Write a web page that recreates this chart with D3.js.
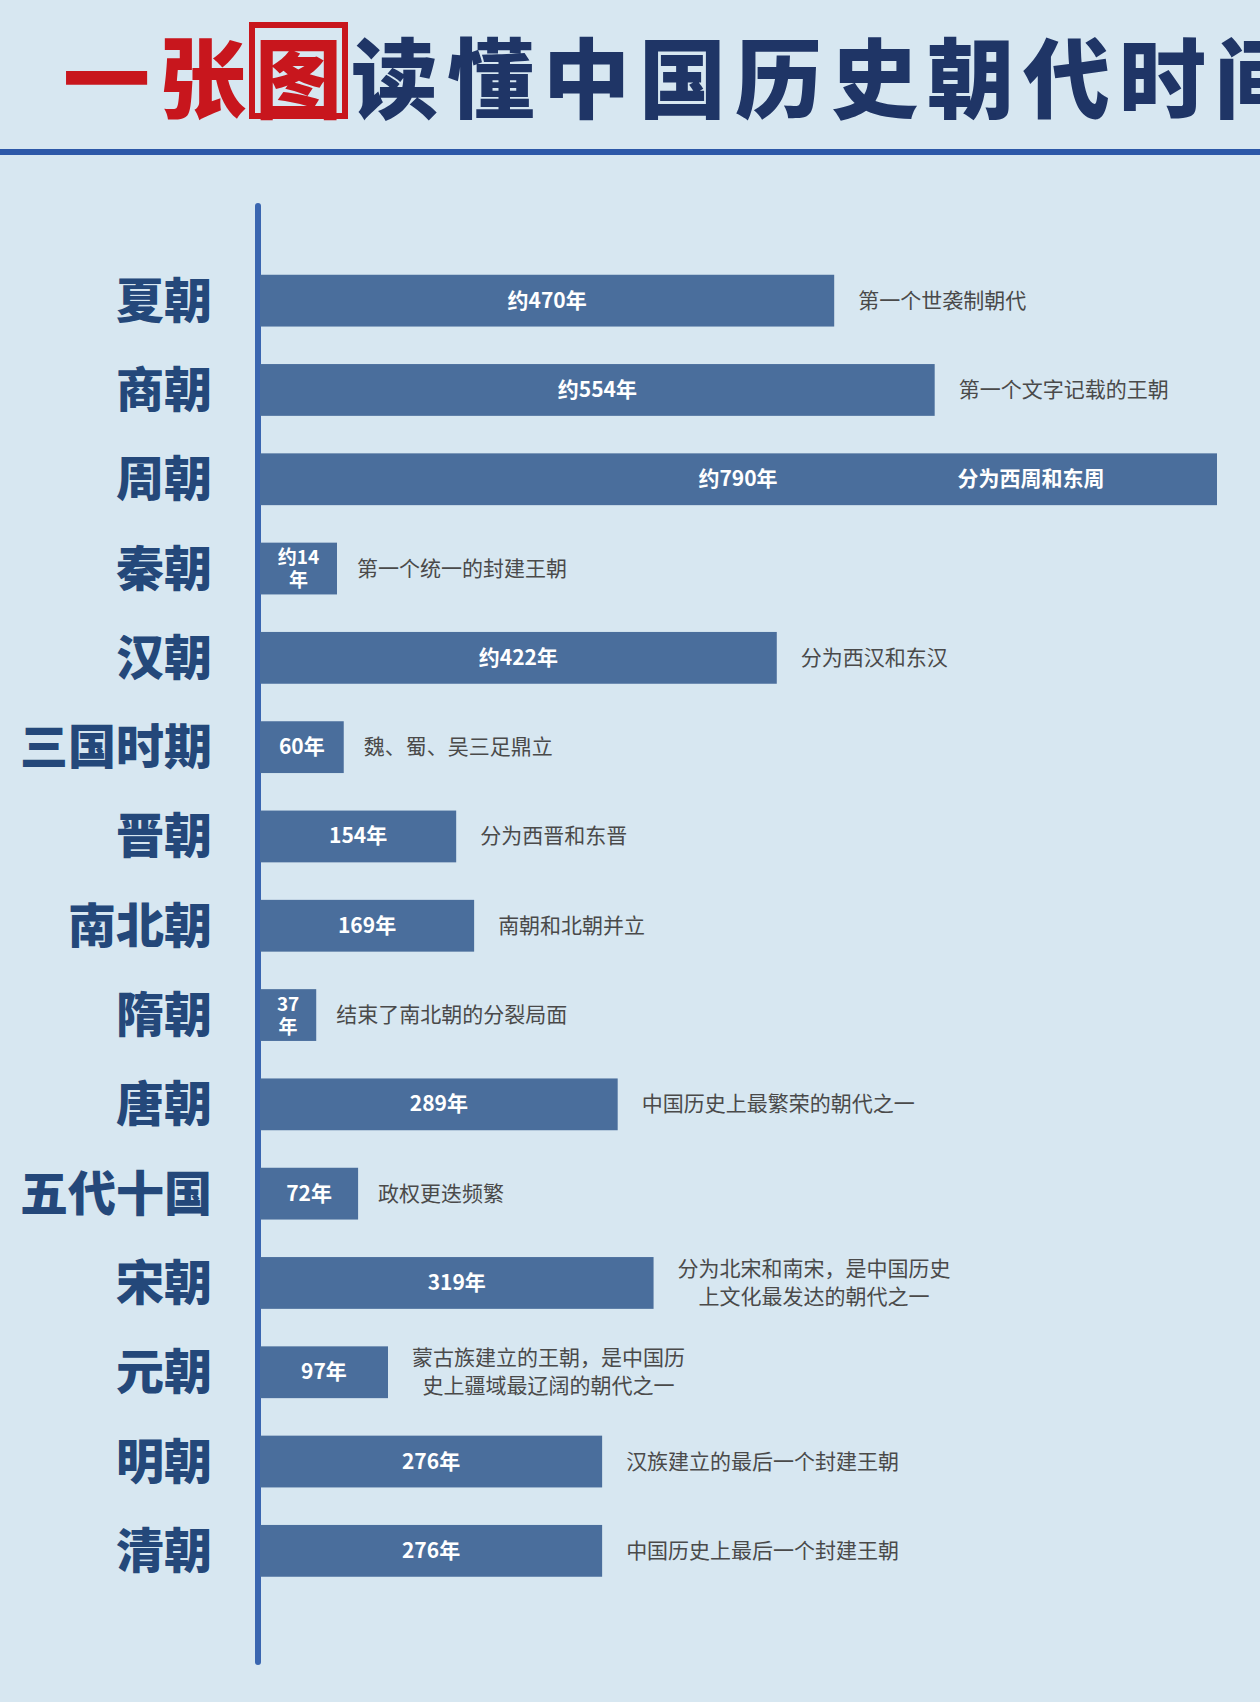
<!DOCTYPE html>
<html><head><meta charset="utf-8">
<script src="https://cdn.jsdelivr.net/npm/d3@7/dist/d3.min.js"></script>
<style>body{margin:0;background:#d7e7f1}svg{display:block}</style></head>
<body><svg id="c" width="1260" height="1702"></svg>
<script>
const dynasties=["夏朝","商朝","周朝","秦朝","汉朝","三国时期","晋朝","南北朝","隋朝","唐朝","五代十国","宋朝","元朝","明朝","清朝"];
const years=[470,554,790,14,422,60,154,169,37,289,72,319,97,276,276];
const valueLabels=[["约470年"],["约554年"],["约790年"],["约14","年"],["约422年"],["60年"],["154年"],["169年"],["37","年"],["289年"],["72年"],["319年"],["97年"],["276年"],["276年"]];
const notes=[["第一个世袭制朝代"],["第一个文字记载的王朝"],["分为西周和东周"],["第一个统一的封建王朝"],["分为西汉和东汉"],["魏、蜀、吴三足鼎立"],["分为西晋和东晋"],["南朝和北朝并立"],["结束了南北朝的分裂局面"],["中国历史上最繁荣的朝代之一"],["政权更迭频繁"],["分为北宋和南宋，是中国历史","上文化最发达的朝代之一"],["蒙古族建立的王朝，是中国历","史上疆域最辽阔的朝代之一"],["汉族建立的最后一个封建王朝"],["中国历史上最后一个封建王朝"]];
const F="'Noto Sans CJK SC',sans-serif";
const svg=d3.select("#c");
svg.append("rect").attr("width",1260).attr("height",1702).attr("fill","#d7e7f1");
const FS=87;
const t=svg.append("text").attr("x",63).attr("y",112).attr("font-family",F).attr("font-weight",900).attr("font-size",FS).attr("letter-spacing",9);
const t1=t.append("tspan").attr("fill","#c8161d").text("一张");
const tb=t.append("tspan").attr("fill","#c8161d").text("图");
t.append("tspan").attr("fill","#1f3566").text("读懂中国历史朝代时间");
const bb=tb.node().getBBox();
svg.append("rect").attr("x",bb.x-3).attr("y",bb.y+14).attr("width",FS+6).attr("height",FS+4).attr("fill","none").attr("stroke","#c8161d").attr("stroke-width",6);
svg.append("rect").attr("x",0).attr("y",149).attr("width",1260).attr("height",6).attr("fill","#2c58a8");
const x0=260;
const x=d3.scaleLinear().domain([-10,790]).range([0,957]);
const y=d3.scaleBand().domain(dynasties).range([256,256+89.3*15]).paddingInner(0.42).paddingOuter(0.21);
svg.append("line").attr("x1",258).attr("x2",258).attr("y1",206).attr("y2",1662).attr("stroke","#3a66b0").attr("stroke-width",6).attr("stroke-linecap","round");
const g=svg.selectAll("g.r").data(dynasties).join("g");
g.append("text").attr("x",212).attr("y",d=>y(d)+y.bandwidth()/2+17).attr("text-anchor","end")
 .attr("font-family",F).attr("font-weight",900).attr("font-size",48).attr("fill","#24487a").text(d=>d);
const bw=i=>Math.max(x(years[i]),i===3?77:50);
g.append("rect").attr("x",x0).attr("y",d=>y(d)).attr("height",y.bandwidth())
 .attr("width",(d,i)=>bw(i)).attr("fill","#4a6e9c");
g.each(function(d,i){
  const gg=d3.select(this), w=bw(i), cy=y(d)+y.bandwidth()/2;
  const vl=valueLabels[i];
  const tx=gg.append("text").attr("font-family",F).attr("font-weight",700).attr("font-size",vl.length>1?19:21).attr("fill","#fff").attr("text-anchor","middle");
  let cx=x0+w/2; if(i===2) cx=738;
  vl.forEach((s,k)=>tx.append("tspan").attr("x",cx).attr("y",cy+7+(k-(vl.length-1)/2)*23).text(s));
  const n=notes[i];
  if(i===2){
    gg.append("text").attr("x",1031).attr("y",cy+7).attr("text-anchor","middle").attr("font-family",F).attr("font-weight",700).attr("font-size",21).attr("fill","#fff").text(n[0]);
    return;
  }
  const nt=gg.append("text").attr("font-family",F).attr("font-size",21).attr("fill","#4a4a4a");
  const sx=x0+w+(w<100?20:24);
  const first=nt.append("tspan").attr("x",sx).attr("y",cy+7+(n.length>1?-14:0)).text(n[0]);
  if(n.length>1){
    const L=first.node().getComputedTextLength();
    nt.append("tspan").attr("x",sx+L/2).attr("text-anchor","middle").attr("y",cy+7+14).text(n[1]);
  }
});
</script></body></html>
